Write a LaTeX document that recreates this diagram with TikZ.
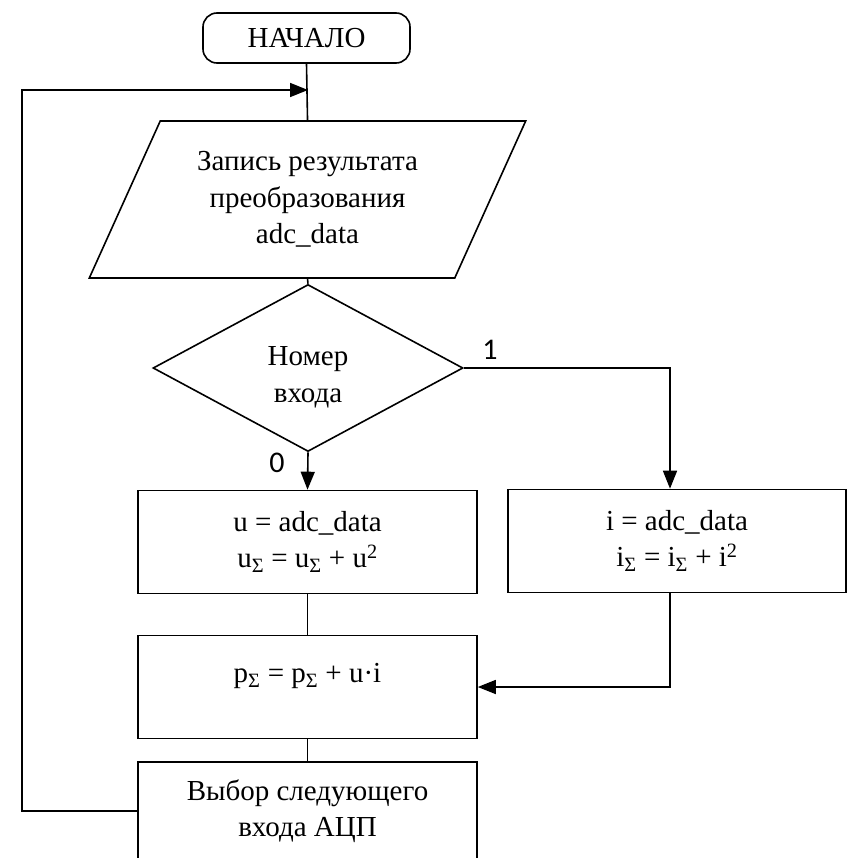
\documentclass[tikz,border=0pt]{standalone}
\usepackage{fontspec}
\setmainfont{Liberation Serif}
\newfontfamily\labfont{Carlito}
\usetikzlibrary{shapes.geometric,arrows.meta}

\begin{document}
\begin{tikzpicture}[x=1pt,y=-1pt,line width=1.6pt,
  every node/.style={font=\fontsize{29}{36.5}\selectfont,align=center,inner sep=0pt},
  term/.style={draw,rectangle,rounded corners=14pt,minimum width=207pt,minimum height=50pt},
  io/.style={draw,trapezium,trapezium left angle=61,trapezium right angle=119,
    trapezium stretches=true,minimum width=437pt,minimum height=157pt},
  dec/.style={draw,diamond,minimum width=310pt,minimum height=167pt,text height=68pt,text depth=0pt},
  blk/.style={draw,rectangle,minimum width=339pt,minimum height=103pt},
  lab/.style={font=\labfont\fontsize{30}{32}\selectfont},
  arr/.style={-{Triangle[length=18pt,width=14pt]}}]
\useasboundingbox (0,0) rectangle (847,861);
\clip (-5,-5) rectangle (852,857);
% blocks
\node[term] (start) at (306.5,38) {НАЧАЛО};
\node[io] (rd) at (307.5,199.5) {Запись результата\\преобразования\\adc\_data};
\node[dec] (num) at (308,368) {Номер\\входа};
\node[blk] (ublk) at (307.5,542) {u = adc\_data\\u\textsubscript{Σ} = u\textsubscript{Σ} + u\textsuperscript{2}};
\node[blk,minimum width=338pt] (iblk) at (677,541) {i = adc\_data\\i\textsubscript{Σ} = i\textsubscript{Σ} + i\textsuperscript{2}};
\node[blk,text depth=28pt] (pblk) at (307.5,687) {p\textsubscript{Σ} = p\textsubscript{Σ} + u·i};
\node[blk,minimum height=98pt] (nxt) at (307.5,811) {Выбор следующего\\входа АЦП};
\node[lab] (one) at (490,350) {1};
\node[lab] (zero) at (277,463) {0};
% connectors
\coordinate (join) at (308,90);
\coordinate (back) at (22,90);
\draw (start.south) -- (rd.north);
\draw[arr] (nxt.west) -| (back) -- (join);
\draw (rd.south) -- (num.north);
\draw[arr] (num.south) -- (ublk.north);
\draw[arr] (num.east) -| ([xshift=-7pt]iblk.north);
\draw (ublk.south) -- (pblk.north);
\draw[arr] ([xshift=-7pt]iblk.south) |- (pblk.east);
\draw (pblk.south) -- (nxt.north);
\end{tikzpicture}
\end{document}
